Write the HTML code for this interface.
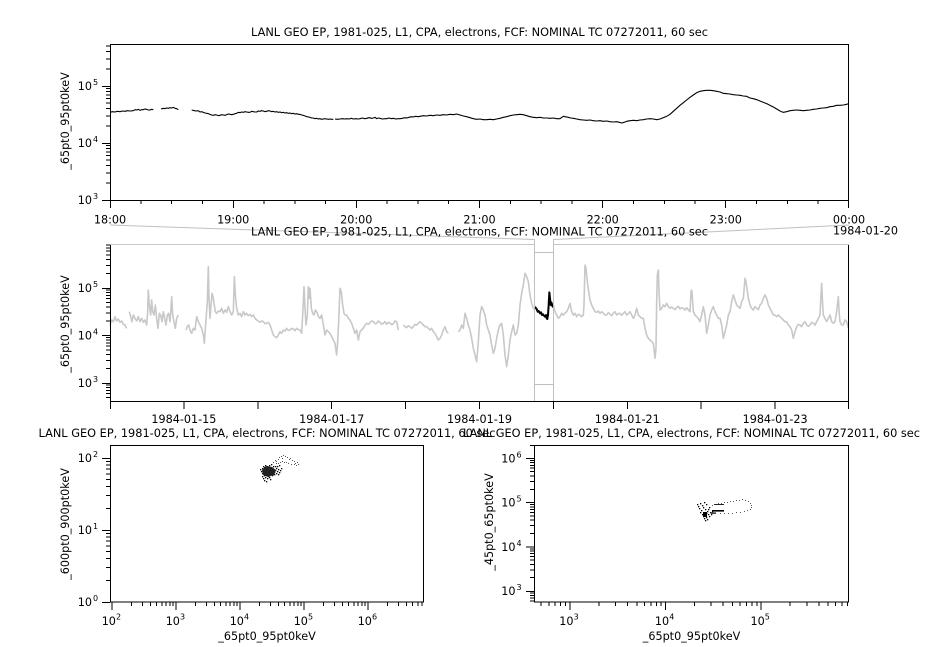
<!DOCTYPE html>
<html><head><meta charset="utf-8"><style>
html,body{margin:0;padding:0;background:#fff;}
svg{display:block;}
text{font-family:"DejaVu Sans","Liberation Sans",sans-serif;font-size:11.2px;fill:#000;}
.sup{font-size:8px;}
</style></head><body>
<svg width="926" height="647" viewBox="0 0 926 647" xmlns="http://www.w3.org/2000/svg">
<rect x="0" y="0" width="926" height="647" fill="#fff"/>

<!-- ================= TOP PANEL ================= -->
<text x="479.5" y="36" text-anchor="middle" textLength="457" lengthAdjust="spacingAndGlyphs">LANL GEO EP, 1981-025, L1, CPA, electrons, FCF: NOMINAL TC 07272011, 60 sec</text>

<g transform="translate(0,20) scale(0.333333)" fill="none" stroke="#000" stroke-width="1.1" stroke-linejoin="round">
<polyline vector-effect="non-scaling-stroke" points="330,277 337,275 345,276 352,274 360,275 367,273 375,274 382,272 390,273 400,272 405,269 410,270 415,268 420,271 425,269 430,269 435,267 440,268 445,270 450,270 455,268 460,269"/>
<polyline vector-effect="non-scaling-stroke" points="483,267 490,265 495,266 500,264 505,265 510,263 515,264 520,262 525,265 530,266 535,269"/>
<polyline vector-effect="non-scaling-stroke" points="575,270 583,272 590,273 595,272 600,276 605,275 610,277 615,279 620,280 625,281 630,283 635,285 640,286 645,284 650,285 655,287 660,286 665,284 670,285 675,286 680,284 685,282 690,283 695,284 700,283 705,281 710,280 715,277 720,278 725,276 730,277 735,275 740,276 745,277 750,277 755,274 760,275 765,276 770,276 775,273 780,274 785,272 790,273 795,275 800,274 805,272 810,273 815,275 820,274 825,276 830,275 835,277 840,276 845,278 850,277 855,279 860,278 865,280 870,279 875,281 880,280 885,282 890,281 895,283 900,283 905,285 910,286 915,288 920,290 925,291 930,292 935,294 940,294 945,296 950,295 955,297 960,296 965,298 970,297 975,296 980,297 985,298 990,297 995,298 1000,298"/>
<polyline vector-effect="non-scaling-stroke" points="1005,297 1012,298 1020,297 1028,296 1035,297 1040,296 1047,297 1055,295 1060,297 1067,296 1075,297 1080,296 1087,294 1095,296 1100,295 1107,293 1115,295 1120,294 1125,292 1130,296 1135,294 1140,295 1147,297 1155,296 1160,296 1167,294 1175,296 1180,295 1187,297 1195,296 1200,296 1207,295 1215,293 1220,294 1227,292 1235,290 1240,291 1247,289 1255,290 1260,289 1270,287 1280,288 1290,286 1300,287 1310,285 1320,286 1330,284 1340,285 1350,283 1360,284 1370,282 1380,285 1390,288 1400,290 1410,293 1420,296 1430,298 1440,297 1450,299 1460,299 1470,298 1480,299 1490,297 1500,295 1510,292 1520,290 1530,287 1540,285 1550,284 1560,283 1570,284 1580,287 1590,290 1600,292 1610,293 1620,292 1630,294 1640,294 1650,295 1660,294 1670,296 1680,296 1690,289 1695,290 1705,292 1712,294 1720,295 1730,297 1740,299 1750,300 1760,301 1770,300 1780,302 1790,303 1800,302 1810,304 1820,303 1830,305 1840,306 1850,305 1858,307 1865,309 1872,307 1880,304 1890,302 1900,301 1910,302 1920,300 1930,299 1940,297 1950,296 1960,297 1970,299 1980,297 1990,293 2000,289 2010,283 2020,274 2030,265 2040,256 2050,248 2060,240 2070,232 2080,225 2090,218 2100,214 2110,212 2120,211 2130,211 2140,212 2150,214 2160,216 2170,220 2180,221 2190,222 2200,224 2210,225 2220,226 2230,228 2240,229 2250,234 2260,236 2270,239 2280,243 2290,247 2300,251 2310,256 2320,261 2330,267 2335,270 2342,274 2350,277 2360,275 2370,272 2380,271 2390,270 2400,271 2410,272 2420,271 2430,270 2440,268 2450,267 2460,265 2470,264 2480,263 2490,260 2500,259 2510,256 2520,256 2530,255 2540,253 2547,250"/>
</g>

<rect x="110.5" y="44.5" width="738" height="156" fill="none" stroke="#000" stroke-width="1" shape-rendering="crispEdges"/>
<path shape-rendering="crispEdges" stroke="#000" stroke-width="1" fill="none" d="
M102 200.5H110 M102 143.5H110 M102 86.5H110
M106 182.8H110 M106 172.8H110 M106 165.7H110 M106 160.2H110 M106 155.6H110 M106 151.8H110 M106 148.5H110 M106 145.6H110
M106 125.8H110 M106 115.8H110 M106 108.7H110 M106 103.2H110 M106 98.6H110 M106 94.8H110 M106 91.5H110 M106 88.6H110
M106 68.8H110 M106 58.8H110 M106 51.7H110 M106 46.2H110
M110.5 200V208 M233.5 200V208 M356.5 200V208 M479.5 200V208 M602.5 200V208 M725.5 200V208 M848.5 200V208
M140.8 200V204 M171.6 200V204 M202.4 200V204 M264 200V204 M294.8 200V204 M325.5 200V204 M387.1 200V204 M417.9 200V204 M448.7 200V204 M510.3 200V204 M541.1 200V204 M571.9 200V204 M633.5 200V204 M664.3 200V204 M695 200V204 M756.6 200V204 M787.4 200V204 M818.2 200V204
"/>
<text x="92" y="204" text-anchor="end">10</text><text class="sup" x="93" y="199">3</text>
<text x="92" y="147" text-anchor="end">10</text><text class="sup" x="93" y="142">4</text>
<text x="92" y="90" text-anchor="end">10</text><text class="sup" x="93" y="85">5</text>
<text transform="translate(69,121) rotate(-90)" text-anchor="middle">_65pt0_95pt0keV</text>
<text x="110" y="223.5" text-anchor="middle">18:00</text>
<text x="233.2" y="223.5" text-anchor="middle">19:00</text>
<text x="356.3" y="223.5" text-anchor="middle">20:00</text>
<text x="479.5" y="223.5" text-anchor="middle">21:00</text>
<text x="602.7" y="223.5" text-anchor="middle">22:00</text>
<text x="725.8" y="223.5" text-anchor="middle">23:00</text>
<text x="849" y="223.5" text-anchor="middle">00:00</text>
<text x="833" y="234.5">1984-01-20</text>

<!-- ================= MIDDLE PANEL ================= -->
<g transform="translate(0,215) scale(0.333333)" fill="none" stroke="#c8c8c8" stroke-width="1.6" stroke-linejoin="round">
<polyline vector-effect="non-scaling-stroke" points="330,330 335,315 340,320 345,305 350,318 355,312 360,322 365,318 370,328 375,330 380,340"/>
<polyline vector-effect="non-scaling-stroke" points="388,290 392,305 396,320 400,300 405,310 410,318 415,305 420,320 425,310 430,322 435,315 440,330 443,290 445,225 448,270 452,300 455,255 458,290 462,300 466,270 470,310 474,340 478,295 482,300 486,320 490,290 494,310 498,330 502,300 506,295 510,320 513,280 515,245 518,300 522,320 526,340 530,310 535,300"/>
<polyline vector-effect="non-scaling-stroke" points="558,345 562,335 566,330 570,345 575,355 580,340 585,345 590,305 595,320 600,330 605,340 610,360 613,385 616,340 619,300 622,260 625,155 627,250 630,310 633,270 636,235 639,245 642,265 646,290 650,295 655,288 660,290 665,280 670,295 675,285 680,292 685,275 690,290 695,300 700,290 703,185 706,240 710,280 715,300 720,295 725,305 730,290 735,300 740,295 745,302 750,298 755,305 760,300 765,310 770,315 775,318 780,322 785,318 790,320 795,326 800,325 805,322 810,330 815,345 820,360 825,365 830,368 835,360 840,350 845,355 850,345 855,348 860,340 865,346 870,345 875,340 880,342 885,347 890,340 895,344 900,345 905,355 908,300 912,215 915,280 918,330 922,300 925,215 928,250 930,220 934,280 938,295 942,300 946,285 950,290 955,305 960,310 965,300 970,330 975,360 980,345 985,350 990,355 995,365 1000,375 1005,385 1010,420 1013,380 1016,320 1020,220 1024,230 1028,270 1032,295 1036,300 1040,300 1045,310 1050,315 1055,325 1060,340 1065,355 1070,345 1075,375 1078,360 1080,350 1085,345 1090,340 1095,330 1100,325 1105,328 1110,322 1115,318 1120,320 1125,326 1130,325 1135,318 1140,322 1145,328 1150,325 1155,320 1160,328 1165,322 1170,324 1175,329 1180,326 1185,318 1190,320 1195,345"/>
<polyline vector-effect="non-scaling-stroke" points="1210,330 1215,335 1220,338 1225,332 1230,335 1235,340 1240,335 1245,328 1250,330 1255,325 1260,320 1265,325 1270,330 1275,335 1280,335 1285,340 1290,345 1295,340 1300,350 1305,355 1310,365 1315,375 1320,370 1325,360 1330,345 1335,335 1340,350 1345,355"/>
<polyline vector-effect="non-scaling-stroke" points="1375,350 1380,345 1385,330 1390,340 1395,295 1400,310 1405,330 1410,345 1415,370 1420,400 1425,420 1430,440 1435,380 1440,300 1445,275 1450,285 1455,300 1460,330 1465,345 1470,360 1475,390 1480,415 1485,400 1490,370 1495,345 1500,330 1505,325 1510,360 1515,420 1520,455 1525,420 1530,375 1535,350 1540,330 1545,360 1550,355 1555,330 1560,270 1565,235 1570,210 1575,175 1580,185 1585,200 1590,240 1595,265 1600,280 1605,285"/>
<polyline vector-effect="non-scaling-stroke" points="1660,270 1665,290 1670,300 1675,310 1680,305 1685,295 1690,300 1695,295 1700,290 1705,280 1710,265 1715,290 1720,300 1725,295 1730,305 1735,298 1740,300 1745,305 1750,300 1752,270 1755,150 1758,160 1762,200 1766,230 1770,255 1775,270 1780,280 1785,290 1790,292 1795,288 1800,295 1805,290 1810,295 1815,300 1820,300 1825,293 1830,297 1835,302 1840,295 1845,290 1850,300 1855,296 1860,295 1865,301 1870,295 1875,290 1880,300 1885,296 1890,290 1895,300 1900,310 1905,300 1910,280 1915,300 1920,305 1925,310 1930,310 1935,340 1940,360 1945,370 1950,375 1955,380 1960,385 1965,430 1968,400 1970,260 1972,180 1975,165 1977,230 1980,285 1985,280 1990,270 1995,275 2000,265 2005,275 2010,280 2015,276 2020,280 2025,284 2030,278 2035,274 2040,282 2045,278 2050,280 2055,285 2060,278 2065,285 2070,290 2073,230 2075,225 2078,260 2080,290 2085,300 2090,305 2095,310 2100,320 2105,300 2110,275 2115,300 2120,355 2125,330 2130,300 2135,285 2140,275 2145,290 2150,300 2155,310 2160,310 2165,330 2170,370 2175,350 2180,330 2185,300 2190,290 2195,260 2200,240 2205,255 2210,270 2215,275 2220,280 2225,260 2230,250 2233,215 2235,190 2238,200 2240,215 2245,250 2250,270 2255,280 2260,285 2265,275 2270,280 2275,284 2280,270 2285,265 2290,250 2295,240 2300,250 2305,270 2310,280 2315,290 2320,300 2325,300 2330,305 2335,300 2340,305 2345,310 2350,315 2355,320 2360,320 2365,330 2370,335 2375,345 2380,370 2385,350 2390,335 2395,328 2400,330 2405,335 2410,325 2415,320 2420,330 2425,334 2430,330 2435,322 2440,325 2445,330 2450,320 2455,310 2460,300 2463,240 2465,205 2468,270 2470,300 2475,310 2480,320 2485,310 2490,300 2495,320 2500,325 2505,320 2510,290 2515,245 2518,300 2520,320 2525,330 2530,330 2535,315 2540,320 2545,340"/>
</g>
<g transform="translate(0,215) scale(0.333333)" fill="none" stroke="#000" stroke-width="2" stroke-linejoin="round">
<polyline vector-effect="non-scaling-stroke" points="1605,275 1608,280 1610,282 1613,290 1616,288 1620,295 1623,292 1626,300 1629,298 1632,302 1635,305 1638,300 1640,310 1642,312 1644,300 1646,270 1648,232 1650,250 1652,270 1654,262 1656,268 1658,275 1660,270"/>
</g>

<path stroke="#000" stroke-width="1" fill="none" shape-rendering="crispEdges" d="M110.5 244.5 V401.5 H848.5 V244.5"/>
<path stroke="#c0c0c0" stroke-width="1" fill="none" d="M110 225 L534.5 239.5 L534.5 401 M849 225 L553.5 239.5 L553.5 401 M534.5 252.5 H553.5 M534.5 384.5 H553.5"/>
<path stroke="#c8c8c8" stroke-width="1" fill="none" shape-rendering="crispEdges" d="M110 244.5 H534.5 M553.5 244.5 H849"/>
<path shape-rendering="crispEdges" stroke="#000" stroke-width="1" fill="none" d="
M102 383.5H110 M102 335.5H110 M102 288.5H110
M106 397.3H110 M106 393.5H110 M106 390.4H110 M106 387.6H110 M106 385.2H110
M106 368.7H110 M106 360.3H110 M106 354.4H110 M106 349.8H110 M106 346H110 M106 342.9H110 M106 340.1H110 M106 337.7H110
M106 321.2H110 M106 312.8H110 M106 306.9H110 M106 302.3H110 M106 298.5H110 M106 295.4H110 M106 292.6H110 M106 290.2H110
M106 273.7H110 M106 265.3H110 M106 259.4H110 M106 254.8H110 M106 251H110 M106 247.9H110 M106 245.1H110
M110.5 401V409 M183.9 401V409 M257.8 401V409 M331.7 401V409 M405.6 401V409 M479.5 401V409 M553.4 401V409 M627.3 401V409 M701.2 401V409 M775.1 401V409 M848.5 401V409
"/>
<text x="92" y="387" text-anchor="end">10</text><text class="sup" x="93" y="382">3</text>
<text x="92" y="339.5" text-anchor="end">10</text><text class="sup" x="93" y="334.5">4</text>
<text x="92" y="292" text-anchor="end">10</text><text class="sup" x="93" y="287">5</text>
<text transform="translate(69,324) rotate(-90)" text-anchor="middle">_65pt0_95pt0keV</text>
<text x="479.5" y="235.5" text-anchor="middle" textLength="457" lengthAdjust="spacingAndGlyphs">LANL GEO EP, 1981-025, L1, CPA, electrons, FCF: NOMINAL TC 07272011, 60 sec</text>
<text x="183.9" y="423" text-anchor="middle">1984-01-15</text>
<text x="331.7" y="423" text-anchor="middle">1984-01-17</text>
<text x="479.5" y="423" text-anchor="middle">1984-01-19</text>
<text x="627.3" y="423" text-anchor="middle">1984-01-21</text>
<text x="775.1" y="423" text-anchor="middle">1984-01-23</text>

<!-- ================= BOTTOM TITLES ================= -->
<text x="267" y="437" text-anchor="middle" textLength="457" lengthAdjust="spacingAndGlyphs">LANL GEO EP, 1981-025, L1, CPA, electrons, FCF: NOMINAL TC 07272011, 60 sec</text>
<text x="691.5" y="437" text-anchor="middle" textLength="457" lengthAdjust="spacingAndGlyphs">LANL GEO EP, 1981-025, L1, CPA, electrons, FCF: NOMINAL TC 07272011, 60 sec</text>

<!-- ================= BOTTOM LEFT ================= -->
<g fill="#000">
<rect x="262" y="468" width="1.3" height="1.3"/><rect x="263" y="470" width="1.3" height="1.3"/><rect x="264" y="467" width="1.3" height="1.3"/><rect x="265" y="472" width="1.3" height="1.3"/><rect x="266" y="469" width="1.3" height="1.3"/><rect x="267" y="471" width="1.3" height="1.3"/><rect x="268" y="468" width="1.3" height="1.3"/><rect x="269" y="473" width="1.3" height="1.3"/><rect x="270" y="470" width="1.3" height="1.3"/><rect x="271" y="467" width="1.3" height="1.3"/><rect x="262" y="473" width="1.3" height="1.3"/><rect x="264" y="475" width="1.3" height="1.3"/><rect x="266" y="474" width="1.3" height="1.3"/><rect x="268" y="476" width="1.3" height="1.3"/><rect x="270" y="474" width="1.3" height="1.3"/><rect x="272" y="471" width="1.3" height="1.3"/><rect x="273" y="469" width="1.3" height="1.3"/><rect x="274" y="472" width="1.3" height="1.3"/><rect x="275" y="470" width="1.3" height="1.3"/><rect x="276" y="468" width="1.3" height="1.3"/><rect x="277" y="471" width="1.3" height="1.3"/><rect x="278" y="469" width="1.3" height="1.3"/><rect x="263" y="466" width="1.3" height="1.3"/><rect x="265" y="465" width="1.3" height="1.3"/><rect x="267" y="466" width="1.3" height="1.3"/><rect x="269" y="465" width="1.3" height="1.3"/><rect x="271" y="464" width="1.3" height="1.3"/><rect x="273" y="466" width="1.3" height="1.3"/><rect x="275" y="466" width="1.3" height="1.3"/><rect x="261" y="471" width="1.3" height="1.3"/><rect x="260" y="469" width="1.3" height="1.3"/><rect x="265" y="477" width="1.3" height="1.3"/><rect x="267" y="478" width="1.3" height="1.3"/><rect x="264" y="480" width="1.3" height="1.3"/><rect x="269" y="477" width="1.3" height="1.3"/><rect x="272" y="475" width="1.3" height="1.3"/><rect x="274" y="474" width="1.3" height="1.3"/><rect x="276" y="473" width="1.3" height="1.3"/><rect x="278" y="474" width="1.3" height="1.3"/><rect x="279" y="472" width="1.3" height="1.3"/><rect x="280" y="470" width="1.3" height="1.3"/><rect x="281" y="468" width="1.3" height="1.3"/><rect x="277" y="466" width="1.3" height="1.3"/><rect x="279" y="465" width="1.3" height="1.3"/><rect x="262" y="476" width="1.3" height="1.3"/><rect x="263" y="478" width="1.3" height="1.3"/><rect x="270" y="479" width="1.3" height="1.3"/><rect x="266" y="481" width="1.3" height="1.3"/>
<path d="M262 470 L266 466 L272 467 L276 470 L274 475 L268 477 L263 475 Z" fill="#222"/>
</g>
<g fill="#555">
<rect x="273" y="462" width="1" height="1"/><rect x="275" y="460" width="1" height="1"/><rect x="276" y="461" width="1" height="1"/><rect x="278" y="459" width="1" height="1"/><rect x="279" y="457" width="1" height="1"/><rect x="281" y="456" width="1" height="1"/><rect x="282" y="458" width="1" height="1"/><rect x="283" y="455" width="1" height="1"/><rect x="285" y="456" width="1" height="1"/><rect x="287" y="457" width="1" height="1"/><rect x="289" y="459" width="1" height="1"/><rect x="290" y="458" width="1" height="1"/><rect x="292" y="460" width="1" height="1"/><rect x="294" y="461" width="1" height="1"/><rect x="295" y="463" width="1" height="1"/><rect x="297" y="462" width="1" height="1"/><rect x="298" y="464" width="1" height="1"/><rect x="296" y="465" width="1" height="1"/><rect x="294" y="464" width="1" height="1"/><rect x="291" y="464" width="1" height="1"/><rect x="288" y="463" width="1" height="1"/><rect x="286" y="462" width="1" height="1"/><rect x="284" y="462" width="1" height="1"/><rect x="282" y="461" width="1" height="1"/><rect x="280" y="462" width="1" height="1"/><rect x="278" y="463" width="1" height="1"/><rect x="276" y="463" width="1" height="1"/>
</g>
<rect x="110.5" y="445.5" width="313" height="156.5" fill="none" stroke="#000" stroke-width="1" shape-rendering="crispEdges"/>
<path shape-rendering="crispEdges" stroke="#000" stroke-width="1" fill="none" d="
M102 602.5H110 M102 530.5H110 M102 458.5H110
M106 580.3H110 M106 567.6H110 M106 558.7H110 M106 551.7H110 M106 546H110 M106 541.2H110 M106 537H110 M106 533.3H110
M106 508.3H110 M106 495.6H110 M106 486.7H110 M106 479.7H110 M106 474H110 M106 469.2H110 M106 465H110 M106 461.3H110
M112 602V610 M176 602V610 M240 602V610 M304 602V610 M368 602V610
M131.3 602V606 M142.5 602V606 M150.5 602V606 M156.7 602V606 M161.8 602V606 M166.1 602V606 M169.8 602V606 M173.1 602V606
M195.3 602V606 M206.5 602V606 M214.5 602V606 M220.7 602V606 M225.8 602V606 M230.1 602V606 M233.8 602V606 M237.1 602V606
M259.3 602V606 M270.5 602V606 M278.5 602V606 M284.7 602V606 M289.8 602V606 M294.1 602V606 M297.8 602V606 M301.1 602V606
M323.3 602V606 M334.5 602V606 M342.5 602V606 M348.7 602V606 M353.8 602V606 M358.1 602V606 M361.8 602V606 M365.1 602V606
M387.3 602V606 M398.5 602V606 M406.5 602V606 M412.7 602V606 M417.8 602V606 M422.1 602V606
"/>
<text x="92" y="606" text-anchor="end">10</text><text class="sup" x="93" y="601">0</text>
<text x="92" y="534" text-anchor="end">10</text><text class="sup" x="93" y="529">1</text>
<text x="92" y="462" text-anchor="end">10</text><text class="sup" x="93" y="457">2</text>
<text x="101.7" y="625">10</text><text class="sup" x="116" y="619.5">2</text>
<text x="165.7" y="625">10</text><text class="sup" x="180" y="619.5">3</text>
<text x="229.7" y="625">10</text><text class="sup" x="244" y="619.5">4</text>
<text x="293.7" y="625">10</text><text class="sup" x="308" y="619.5">5</text>
<text x="357.7" y="625">10</text><text class="sup" x="372" y="619.5">6</text>
<text x="267" y="640" text-anchor="middle">_65pt0_95pt0keV</text>
<text transform="translate(69,524) rotate(-90)" text-anchor="middle">_600pt0_900pt0keV</text>

<!-- ================= BOTTOM RIGHT ================= -->
<g fill="#000">
<rect x="697" y="504" width="1.3" height="1.3"/><rect x="698" y="506" width="1.3" height="1.3"/><rect x="699" y="508" width="1.3" height="1.3"/><rect x="700" y="503" width="1.3" height="1.3"/><rect x="701" y="510" width="1.3" height="1.3"/><rect x="702" y="505" width="1.3" height="1.3"/><rect x="703" y="507" width="1.3" height="1.3"/><rect x="704" y="502" width="1.3" height="1.3"/><rect x="705" y="509" width="1.3" height="1.3"/><rect x="706" y="504" width="1.3" height="1.3"/><rect x="700" y="512" width="1.3" height="1.3"/><rect x="702" y="514" width="1.3" height="1.3"/><rect x="703" y="516" width="1.3" height="1.3"/><rect x="704" y="518" width="1.3" height="1.3"/><rect x="705" y="515" width="1.3" height="1.3"/><rect x="706" y="513" width="1.3" height="1.3"/><rect x="707" y="511" width="1.3" height="1.3"/><rect x="708" y="514" width="1.3" height="1.3"/><rect x="706" y="517" width="1.3" height="1.3"/><rect x="705" y="520" width="1.3" height="1.3"/><rect x="707" y="519" width="1.3" height="1.3"/><rect x="709" y="516" width="1.3" height="1.3"/><rect x="710" y="512" width="1.3" height="1.3"/><rect x="711" y="514" width="1.3" height="1.3"/><rect x="712" y="511" width="1.3" height="1.3"/><rect x="708" y="509" width="1.3" height="1.3"/><rect x="709" y="507" width="1.3" height="1.3"/>
<rect x="703" y="512" width="4" height="5"/>
<rect x="712" y="510" width="12" height="1.6"/><rect x="711" y="512.5" width="5" height="1.2"/>
</g>
<g fill="#555">
<rect x="712" y="505" width="1" height="1"/><rect x="715" y="504" width="1" height="1"/><rect x="718" y="503" width="1" height="1"/><rect x="721" y="503" width="1" height="1"/><rect x="724" y="502" width="1" height="1"/><rect x="727" y="502" width="1" height="1"/><rect x="730" y="501" width="1" height="1"/><rect x="733" y="501" width="1" height="1"/><rect x="736" y="500" width="1" height="1"/><rect x="739" y="500" width="1" height="1"/><rect x="742" y="499" width="1" height="1"/><rect x="745" y="500" width="1" height="1"/><rect x="748" y="501" width="1" height="1"/><rect x="750" y="503" width="1" height="1"/><rect x="751" y="505" width="1" height="1"/><rect x="751" y="507" width="1" height="1"/><rect x="750" y="509" width="1" height="1"/><rect x="747" y="510" width="1" height="1"/><rect x="744" y="511" width="1" height="1"/><rect x="740" y="512" width="1" height="1"/><rect x="736" y="512" width="1" height="1"/><rect x="732" y="513" width="1" height="1"/><rect x="728" y="513" width="1" height="1"/><rect x="724" y="513" width="1" height="1"/><rect x="720" y="513" width="1" height="1"/>
<rect x="714" y="504" width="10" height="1" fill="#222"/>
</g>
<rect x="534.5" y="445.5" width="314" height="156.5" fill="none" stroke="#000" stroke-width="1" shape-rendering="crispEdges"/>
<path shape-rendering="crispEdges" stroke="#000" stroke-width="1" fill="none" d="
M526 591.5H534 M526 546.8H534 M526 502.6H534 M526 458.4H534
M530 600.8H534 M530 597.9H534 M530 595.3H534 M530 593H534
M530 577.7H534 M530 569.9H534 M530 564.4H534 M530 560.1H534 M530 556.6H534 M530 553.7H534 M530 551.1H534 M530 548.8H534
M530 533.5H534 M530 525.7H534 M530 520.2H534 M530 515.9H534 M530 512.4H534 M530 509.5H534 M530 506.9H534 M530 504.6H534
M530 489.3H534 M530 481.5H534 M530 476H534 M530 471.7H534 M530 468.2H534 M530 465.3H534 M530 462.7H534 M530 460.4H534
M530 445.5H534
M570 602V610 M665.6 602V610 M761.2 602V610
M541.2 602V606 M548.8 602V606 M555.2 602V606 M560.7 602V606 M565.6 602V606
M598.8 602V606 M615.6 602V606 M627.6 602V606 M636.8 602V606 M644.4 602V606 M650.8 602V606 M656.3 602V606 M661.2 602V606
M694.4 602V606 M711.2 602V606 M723.2 602V606 M732.4 602V606 M740 602V606 M746.4 602V606 M751.9 602V606 M756.8 602V606
M790 602V606 M806.8 602V606 M818.8 602V606 M828 602V606 M835.6 602V606 M842 602V606 M847.5 602V606
"/>
<text x="515.5" y="595" text-anchor="end">10</text><text class="sup" x="516.5" y="590">3</text>
<text x="515.5" y="550.8" text-anchor="end">10</text><text class="sup" x="516.5" y="545.8">4</text>
<text x="515.5" y="506.6" text-anchor="end">10</text><text class="sup" x="516.5" y="501.6">5</text>
<text x="515.5" y="462.4" text-anchor="end">10</text><text class="sup" x="516.5" y="457.4">6</text>
<text x="559.3" y="625">10</text><text class="sup" x="573.6" y="619.5">3</text>
<text x="654.9" y="625">10</text><text class="sup" x="669.2" y="619.5">4</text>
<text x="750.5" y="625">10</text><text class="sup" x="764.8" y="619.5">5</text>
<text x="691.5" y="640" text-anchor="middle">_65pt0_95pt0keV</text>
<text transform="translate(493,522) rotate(-90)" text-anchor="middle">_45pt0_65pt0keV</text>
</svg>
</body></html>
